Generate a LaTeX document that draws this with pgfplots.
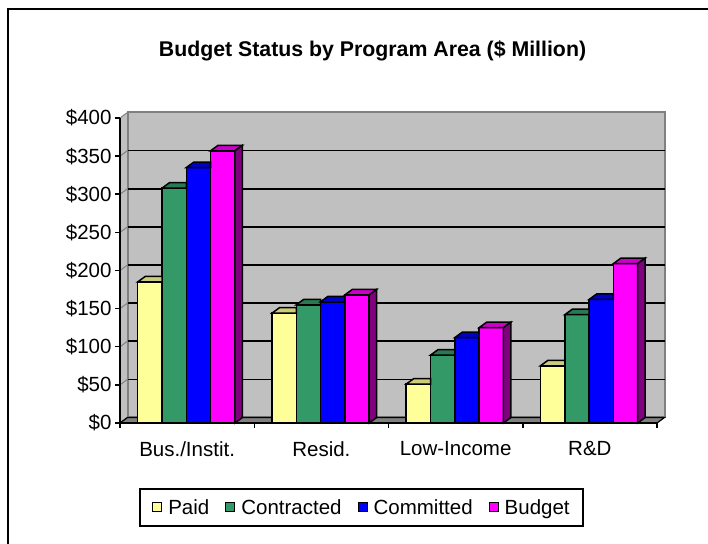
\documentclass[border=0pt]{standalone}
\usepackage{pgfplots}
\usepackage{pgfplotstable}
\pgfplotsset{compat=1.18}
\usepackage{fontspec}
\setmainfont{Liberation Sans}

\definecolor{paid}{HTML}{FFFF99}
\definecolor{paidtop}{HTML}{CCCC7A}
\definecolor{contr}{HTML}{339966}
\definecolor{contrtop}{HTML}{297A52}
\definecolor{commit}{HTML}{0000FF}
\definecolor{committop}{HTML}{0000CC}
\definecolor{budget}{HTML}{FF00FF}
\definecolor{budgettop}{HTML}{CC00CC}
\definecolor{budgetside}{HTML}{800080}
\definecolor{wall}{HTML}{C0C0C0}
\definecolor{walledge}{HTML}{808080}
\definecolor{floorc}{HTML}{808080}

% top face of a bar whose right neighbour is taller (right part hidden)
\pgfdeclareplotmark{bartopcut}{%
  \pgfpathmoveto{\pgfqpoint{-12.15bp}{0bp}}%
  \pgfpathlineto{\pgfqpoint{12.15bp}{0bp}}%
  \pgfpathlineto{\pgfqpoint{12.15bp}{5.5bp}}%
  \pgfpathlineto{\pgfqpoint{-4.65bp}{5.5bp}}%
  \pgfpathclose
  \pgfusepathqfillstroke
}
\pgfdeclareplotmark{bartop}{%
  \pgfpathmoveto{\pgfqpoint{-12.15bp}{0bp}}%
  \pgfpathlineto{\pgfqpoint{12.15bp}{0bp}}%
  \pgfpathlineto{\pgfqpoint{19.65bp}{5.5bp}}%
  \pgfpathlineto{\pgfqpoint{-4.65bp}{5.5bp}}%
  \pgfpathclose
  \pgfusepathqfillstroke
}
\pgfdeclareplotmark{barside}{%
  \pgfpathmoveto{\pgfqpoint{12.15bp}{0bp}}%
  \pgfpathlineto{\pgfqpoint{19.65bp}{5.5bp}}%
  \pgfpathlineto{\pgfpoint{19.65bp}{5.52pt-0.76533pt*\ry}}%
  \pgfpathlineto{\pgfpoint{12.15bp}{-0.76533pt*\ry}}%
  \pgfpathclose
  \pgfusepathqfillstroke
}

\pgfplotstableread{
x paid contracted committed budget
0 185 308 335 357
1 144 155 159 168
2 51 89 112 125
3 75 142 162 209
}\data

\newcommand{\labfont}{\fontsize{20.5bp}{24bp}\selectfont}

\begin{document}
\begin{tikzpicture}
\useasboundingbox (0,0) rectangle (708bp,544bp);
\fill[white] (0,0) rectangle (708bp,544bp);
\draw[line width=2bp] (8bp,-5bp) -- (8bp,535bp) -- (715bp,535bp);
\node[font=\bfseries\fontsize{21.3bp}{24bp}\selectfont, anchor=base] at (372.5bp,487bp) {Budget Status by Program Area (\$ Million)};
\begin{axis}[
  at={(120bp,121bp)}, anchor=south west,
  scale only axis, width=537bp, height=305bp,
  xmin=0, xmax=4, ymin=0, ymax=400,
  clip=false,
  axis on top,
  axis lines*=left,
  axis line style={-, black, line width=1.5bp},
  xtick pos=left, ytick pos=left,
  tick align=outside,
  major tick length=5bp,
  every tick/.style={black, line width=1.5bp},
  ytick={0,50,...,400},
  yticklabel={\$\pgfmathprintnumber[assume math mode=true]{\tick}},
  xtick={0,1,2,3,4},
  xticklabels={},
  extra x ticks={0.5,1.5,2.5,3.5},
  extra x tick labels={Bus./Instit., Resid., Low-Income, R\&D},
  extra x tick style={major tick length=0pt, xticklabel style={yshift=-15bp}},
  tick label style={font=\labfont},
  legend style={at={(0.4497,-0.277)}, anchor=center, legend columns=4,
    draw=black, line width=1.8bp, font=\labfont, inner xsep=12bp, inner ysep=9.5bp,
    nodes={inner sep=1bp},
    /tikz/every even column/.append style={column sep=15bp},
    /tikz/every odd column/.append style={column sep=5bp}},
  legend image code/.code={\draw[#1, draw=black, line width=1bp] (0bp,-4.5bp) rectangle (9bp,4.5bp);},
]
% back wall
\filldraw[fill=wall, draw=walledge, line width=2bp] ([shift={(7.5bp,5.5bp)}]axis cs:0,0) rectangle ([shift={(7.5bp,5.5bp)}]axis cs:4,400);
% left wall
\filldraw[fill=wall, draw=walledge, line width=1bp] (axis cs:0,0) -- ([shift={(7.5bp,5.5bp)}]axis cs:0,0) -- ([shift={(7.5bp,5.5bp)}]axis cs:0,400) -- (axis cs:0,400) -- cycle;
% floor
\filldraw[fill=floorc, draw=black, line width=1.2bp] (axis cs:0,0) -- (axis cs:4,0) -- ([shift={(7.5bp,5.5bp)}]axis cs:4,0) -- ([shift={(7.5bp,5.5bp)}]axis cs:0,0) -- cycle;
\pgfplotsinvokeforeach{50,100,150,200,250,300,350}{
  \draw[black, line width=1.7bp] ([shift={(7.5bp,5.5bp)}]axis cs:0,#1) -- ([shift={(7.5bp,5.5bp)}]axis cs:4,#1);
  \draw[walledge, line width=1bp] (axis cs:0,#1) -- ([shift={(7.5bp,5.5bp)}]axis cs:0,#1);
}
% Paid
\addplot[ybar, bar width=0.181, bar shift=0pt, fill=paid, draw=black, line width=1.5bp] table[x expr=\thisrow{x}+0.2225, y=paid] {\data};
\addlegendentry{Paid}
\addplot[only marks, forget plot, mark=bartopcut, mark options={fill=paidtop, draw=black, line width=1.5bp}] table[x expr=\thisrow{x}+0.2225, y=paid] {\data};
% Contracted
\addplot[ybar, bar width=0.181, bar shift=0pt, fill=contr, draw=black, line width=1.5bp] table[x expr=\thisrow{x}+0.4035, y=contracted] {\data};
\addlegendentry{Contracted}
\addplot[only marks, forget plot, mark=bartopcut, mark options={fill=contrtop, draw=black, line width=1.5bp}] table[x expr=\thisrow{x}+0.4035, y=contracted] {\data};
% Committed
\addplot[ybar, bar width=0.181, bar shift=0pt, fill=commit, draw=black, line width=1.5bp] table[x expr=\thisrow{x}+0.5845, y=committed] {\data};
\addlegendentry{Committed}
\addplot[only marks, forget plot, mark=bartopcut, mark options={fill=committop, draw=black, line width=1.5bp}] table[x expr=\thisrow{x}+0.5845, y=committed] {\data};
% Budget
\addplot[ybar, bar width=0.181, bar shift=0pt, fill=budget, draw=black, line width=1.5bp] table[x expr=\thisrow{x}+0.7655, y=budget] {\data};
\addlegendentry{Budget}
\addplot[only marks, forget plot, mark=bartop, mark options={fill=budgettop, draw=black, line width=1.5bp}] table[x expr=\thisrow{x}+0.7655, y=budget] {\data};
\addplot[only marks, forget plot, mark=barside, visualization depends on={rawy\as\ry}, mark options={fill=budgetside, draw=black, line width=1.5bp}] table[x expr=\thisrow{x}+0.7655, y=budget] {\data};
\end{axis}
\end{tikzpicture}
\end{document}
